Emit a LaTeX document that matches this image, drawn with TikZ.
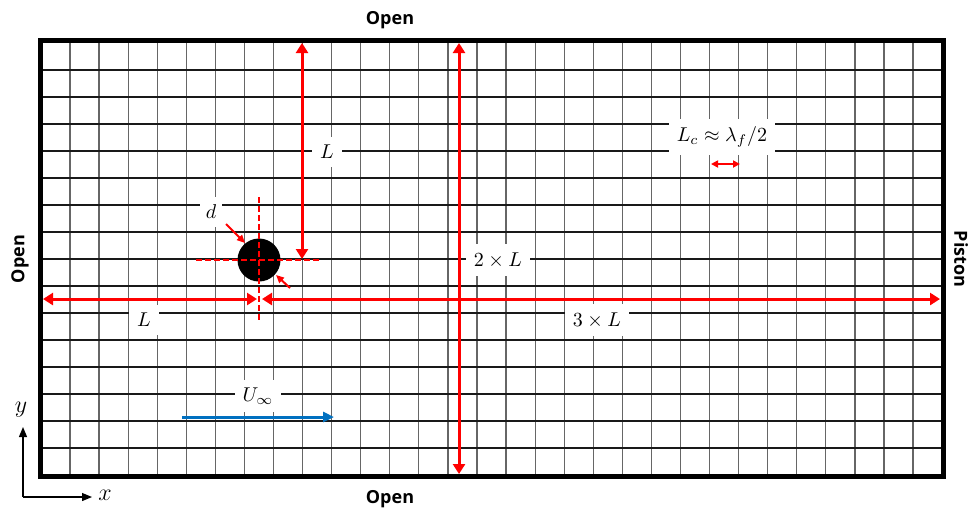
\documentclass[tikz,border=0pt]{standalone}
\usepackage{fontspec}
\setsansfont{Open Sans}
\usepackage{amsmath}
\usetikzlibrary{arrows.meta, positioning}
\definecolor{dimred}{RGB}{255, 0, 0}
\definecolor{flowblue}{RGB}{0, 112, 192}

\tikzset{
  gridv/.style={black!60, line width=0.6pt},
  gridh/.style={black!90, line width=0.6pt},
  dimarrow/.style={dimred, line width=1.5pt,
    {Triangle[length=5pt, width=6pt]}-{Triangle[length=5pt, width=6pt]}},
  pointer/.style={dimred, line width=1pt, -{Triangle[length=4pt, width=3.5pt]}},
  crossline/.style={dimred, line width=0.6pt, dash pattern=on 3pt off 1.5pt},
  dimlabel/.style={fill=white, inner xsep=4pt, inner ysep=4pt},
  sidelabel/.style={font=\sffamily\bfseries\fontsize{9}{11}\selectfont},
  axisarrow/.style={black, line width=0.6pt, -{Triangle[length=5pt, width=4pt]}}
}

\begin{document}
\begin{tikzpicture}[x=0.5pt, y=-0.5pt]
    \useasboundingbox (0,0) rectangle (977,511);

    % Mesh
    \foreach \i in {0,...,29} {
        \draw[gridv] ({70+29.07*\i},43) -- ({70+29.07*\i},474);
    }
    \foreach \j in {0,...,14} {
        \draw[gridh] (43,{70+27*\j}) -- (941,{70+27*\j});
    }

    % Domain boundary
    \draw[line width=2.5pt] (40.5,40.5) rectangle (943.5,476.5);

    % Boundary names
    \node[sidelabel] (openT) at (390,20) {Open};
    \node[sidelabel] (openB) at (390,499) {Open};
    \node[sidelabel, rotate=90] (openL) at (20,259) {Open};
    \node[sidelabel, rotate=-90] (piston) at (961,259) {Piston};

    % Cylinder and its centre lines
    \coordinate (crossW) at (196,260);
    \coordinate (crossE) at (322,260);
    \coordinate (crossN) at (259,197);
    \coordinate (crossS) at (259,322);
    \node[circle, fill=black, minimum size=21.5pt, inner sep=0pt] (cyl) at (259,260) {};
    \draw[crossline] (crossW) -- (crossE);
    \draw[crossline] (crossN) -- (crossS);

    % Diameter
    \node[dimlabel, inner xsep=3pt] (dlab) at (211,212) {$d$};
    \coordinate (dA) at (226,224);
    \coordinate (dB) at (245,243);
    \coordinate (dC) at (290,288);
    \coordinate (dD) at (276,275);
    \draw[pointer] (dA) -- (dB);
    \draw[pointer] (dC) -- (dD);

    % Distance to the top boundary
    \coordinate (upT) at (302,43);
    \coordinate (upB) at (302,259);
    \draw[dimarrow] (upT) -- (upB);
    \node[dimlabel] (Lup) at (327,152) {$L$};

    % Domain height
    \coordinate (hT) at (459,43);
    \coordinate (hB) at (459,474);
    \draw[dimarrow] (hT) -- (hB);
    \node[dimlabel] (hlab) at (498,260) {$2 \times L$};

    % Upstream and downstream lengths
    \coordinate (wL) at (43,299);
    \coordinate (wM) at (257,299);
    \coordinate (eM) at (262,299);
    \coordinate (eR) at (940,299);
    \draw[dimarrow] (wL) -- (wM);
    \draw[dimarrow] (eM) -- (eR);
    \node[dimlabel] (Lleft) at (144,320) {$L$};
    \node[dimlabel] (Lright) at (597,320) {$3 \times L$};

    % Cell size
    \node[dimlabel] (lclab) at (722,137) {$L_c \approx \lambda_f/2$};
    \coordinate (cA) at (711,164);
    \coordinate (cB) at (740,164);
    \draw[dimred, line width=0.85pt,
        {Triangle[length=3.5pt, width=3.5pt]}-{Triangle[length=3.5pt, width=3.5pt]}] (cA) -- (cB);

    % Free stream
    \coordinate (uA) at (182,417);
    \coordinate (uB) at (334,417);
    \draw[flowblue, line width=1.5pt, -{Triangle[length=5.5pt, width=5pt]}] (uA) -- (uB);
    \node[dimlabel] (ulab) at (258,396) {$U_\infty$};

    % Axes
    \coordinate (orig) at (23,497);
    \coordinate (yTip) at (23,427);
    \coordinate (xTip) at (92,497);
    \draw[axisarrow] (orig) -- (yTip);
    \draw[axisarrow] (orig) -- (xTip);
    \node[font=\large] (ylab) at (21,410) {$y$};
    \node[font=\large] (xlab) at (105,495) {$x$};
\end{tikzpicture}
\end{document}
